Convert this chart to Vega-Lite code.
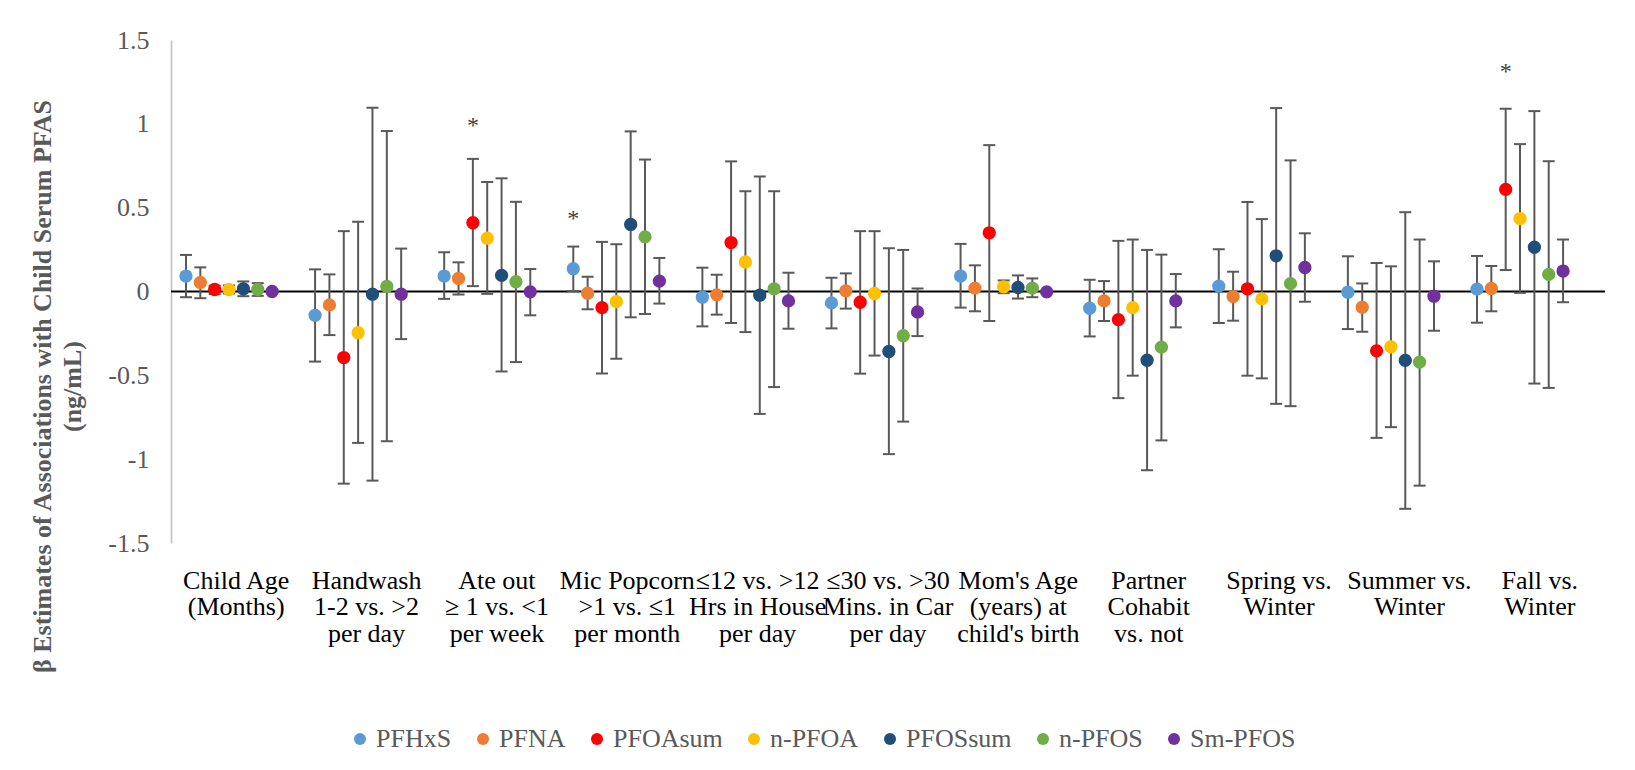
{
  "$schema": "https://vega.github.io/schema/vega-lite/v6.json",
  "width": 1434,
  "height": 503,
  "autosize": {"type": "none"},
  "padding": {"left": 171, "top": 40, "right": 30, "bottom": 227},
  "background": "white",
  "config": {"view": {"stroke": null}, "font": "Liberation Serif"},
  "datasets": {
    "est": [
      {"cat": "Child Age|(Months)", "series": "PFHxS", "est": 0.092, "lo": -0.034, "hi": 0.218},
      {"cat": "Child Age|(Months)", "series": "PFNA", "est": 0.054, "lo": -0.04, "hi": 0.144},
      {"cat": "Child Age|(Months)", "series": "PFOAsum", "est": 0.012, "lo": -0.015, "hi": 0.035},
      {"cat": "Child Age|(Months)", "series": "n-PFOA", "est": 0.012, "lo": -0.012, "hi": 0.036},
      {"cat": "Child Age|(Months)", "series": "PFOSsum", "est": 0.016, "lo": -0.028, "hi": 0.06},
      {"cat": "Child Age|(Months)", "series": "n-PFOS", "est": 0.012, "lo": -0.026, "hi": 0.05},
      {"cat": "Child Age|(Months)", "series": "Sm-PFOS", "est": 0.0, "lo": -0.008, "hi": 0.008},
      {"cat": "Handwash|1-2 vs. >2|per day", "series": "PFHxS", "est": -0.142, "lo": -0.418, "hi": 0.132},
      {"cat": "Handwash|1-2 vs. >2|per day", "series": "PFNA", "est": -0.08, "lo": -0.26, "hi": 0.102},
      {"cat": "Handwash|1-2 vs. >2|per day", "series": "PFOAsum", "est": -0.394, "lo": -1.146, "hi": 0.36},
      {"cat": "Handwash|1-2 vs. >2|per day", "series": "n-PFOA", "est": -0.246, "lo": -0.903, "hi": 0.416},
      {"cat": "Handwash|1-2 vs. >2|per day", "series": "PFOSsum", "est": -0.016, "lo": -1.128, "hi": 1.096},
      {"cat": "Handwash|1-2 vs. >2|per day", "series": "n-PFOS", "est": 0.03, "lo": -0.893, "hi": 0.957},
      {"cat": "Handwash|1-2 vs. >2|per day", "series": "Sm-PFOS", "est": -0.016, "lo": -0.284, "hi": 0.256},
      {"cat": "Ate out|≥ 1 vs. <1|per week", "series": "PFHxS", "est": 0.092, "lo": -0.044, "hi": 0.234},
      {"cat": "Ate out|≥ 1 vs. <1|per week", "series": "PFNA", "est": 0.078, "lo": -0.018, "hi": 0.174},
      {"cat": "Ate out|≥ 1 vs. <1|per week", "series": "PFOAsum", "est": 0.41, "lo": 0.032, "hi": 0.791},
      {"cat": "Ate out|≥ 1 vs. <1|per week", "series": "n-PFOA", "est": 0.318, "lo": -0.014, "hi": 0.653},
      {"cat": "Ate out|≥ 1 vs. <1|per week", "series": "PFOSsum", "est": 0.096, "lo": -0.477, "hi": 0.675},
      {"cat": "Ate out|≥ 1 vs. <1|per week", "series": "n-PFOS", "est": 0.058, "lo": -0.421, "hi": 0.535},
      {"cat": "Ate out|≥ 1 vs. <1|per week", "series": "Sm-PFOS", "est": -0.002, "lo": -0.142, "hi": 0.134},
      {"cat": "Mic Popcorn|>1 vs. ≤1|per month", "series": "PFHxS", "est": 0.136, "lo": 0.002, "hi": 0.268},
      {"cat": "Mic Popcorn|>1 vs. ≤1|per month", "series": "PFNA", "est": -0.01, "lo": -0.106, "hi": 0.088},
      {"cat": "Mic Popcorn|>1 vs. ≤1|per month", "series": "PFOAsum", "est": -0.096, "lo": -0.489, "hi": 0.296},
      {"cat": "Mic Popcorn|>1 vs. ≤1|per month", "series": "n-PFOA", "est": -0.06, "lo": -0.401, "hi": 0.282},
      {"cat": "Mic Popcorn|>1 vs. ≤1|per month", "series": "PFOSsum", "est": 0.4, "lo": -0.154, "hi": 0.955},
      {"cat": "Mic Popcorn|>1 vs. ≤1|per month", "series": "n-PFOS", "est": 0.326, "lo": -0.134, "hi": 0.787},
      {"cat": "Mic Popcorn|>1 vs. ≤1|per month", "series": "Sm-PFOS", "est": 0.062, "lo": -0.072, "hi": 0.2},
      {"cat": "≤12 vs. >12|Hrs in House|per day", "series": "PFHxS", "est": -0.034, "lo": -0.208, "hi": 0.142},
      {"cat": "≤12 vs. >12|Hrs in House|per day", "series": "PFNA", "est": -0.02, "lo": -0.138, "hi": 0.1},
      {"cat": "≤12 vs. >12|Hrs in House|per day", "series": "PFOAsum", "est": 0.292, "lo": -0.188, "hi": 0.776},
      {"cat": "≤12 vs. >12|Hrs in House|per day", "series": "n-PFOA", "est": 0.176, "lo": -0.242, "hi": 0.598},
      {"cat": "≤12 vs. >12|Hrs in House|per day", "series": "PFOSsum", "est": -0.022, "lo": -0.73, "hi": 0.686},
      {"cat": "≤12 vs. >12|Hrs in House|per day", "series": "n-PFOS", "est": 0.016, "lo": -0.57, "hi": 0.598},
      {"cat": "≤12 vs. >12|Hrs in House|per day", "series": "Sm-PFOS", "est": -0.056, "lo": -0.222, "hi": 0.112},
      {"cat": "≤30 vs. >30|Mins. in Car|per day", "series": "PFHxS", "est": -0.068, "lo": -0.22, "hi": 0.082},
      {"cat": "≤30 vs. >30|Mins. in Car|per day", "series": "PFNA", "est": 0.004, "lo": -0.102, "hi": 0.108},
      {"cat": "≤30 vs. >30|Mins. in Car|per day", "series": "PFOAsum", "est": -0.064, "lo": -0.49, "hi": 0.36},
      {"cat": "≤30 vs. >30|Mins. in Car|per day", "series": "n-PFOA", "est": -0.012, "lo": -0.382, "hi": 0.36},
      {"cat": "≤30 vs. >30|Mins. in Car|per day", "series": "PFOSsum", "est": -0.358, "lo": -0.97, "hi": 0.258},
      {"cat": "≤30 vs. >30|Mins. in Car|per day", "series": "n-PFOS", "est": -0.264, "lo": -0.776, "hi": 0.248},
      {"cat": "≤30 vs. >30|Mins. in Car|per day", "series": "Sm-PFOS", "est": -0.122, "lo": -0.266, "hi": 0.018},
      {"cat": "Mom's Age|(years) at|child's birth", "series": "PFHxS", "est": 0.092, "lo": -0.096, "hi": 0.284},
      {"cat": "Mom's Age|(years) at|child's birth", "series": "PFNA", "est": 0.02, "lo": -0.118, "hi": 0.156},
      {"cat": "Mom's Age|(years) at|child's birth", "series": "PFOAsum", "est": 0.35, "lo": -0.176, "hi": 0.873},
      {"cat": "Mom's Age|(years) at|child's birth", "series": "n-PFOA", "est": 0.028, "lo": -0.01, "hi": 0.066},
      {"cat": "Mom's Age|(years) at|child's birth", "series": "PFOSsum", "est": 0.024, "lo": -0.042, "hi": 0.096},
      {"cat": "Mom's Age|(years) at|child's birth", "series": "n-PFOS", "est": 0.02, "lo": -0.034, "hi": 0.078},
      {"cat": "Mom's Age|(years) at|child's birth", "series": "Sm-PFOS", "est": -0.002, "lo": -0.01, "hi": 0.006},
      {"cat": "Partner|Cohabit|vs. not", "series": "PFHxS", "est": -0.1, "lo": -0.268, "hi": 0.07},
      {"cat": "Partner|Cohabit|vs. not", "series": "PFNA", "est": -0.056, "lo": -0.176, "hi": 0.062},
      {"cat": "Partner|Cohabit|vs. not", "series": "PFOAsum", "est": -0.168, "lo": -0.636, "hi": 0.302},
      {"cat": "Partner|Cohabit|vs. not", "series": "n-PFOA", "est": -0.096, "lo": -0.502, "hi": 0.31},
      {"cat": "Partner|Cohabit|vs. not", "series": "PFOSsum", "est": -0.41, "lo": -1.066, "hi": 0.248},
      {"cat": "Partner|Cohabit|vs. not", "series": "n-PFOS", "est": -0.332, "lo": -0.888, "hi": 0.22},
      {"cat": "Partner|Cohabit|vs. not", "series": "Sm-PFOS", "est": -0.056, "lo": -0.214, "hi": 0.104},
      {"cat": "Spring vs.|Winter", "series": "PFHxS", "est": 0.032, "lo": -0.188, "hi": 0.252},
      {"cat": "Spring vs.|Winter", "series": "PFNA", "est": -0.03, "lo": -0.174, "hi": 0.118},
      {"cat": "Spring vs.|Winter", "series": "PFOAsum", "est": 0.016, "lo": -0.502, "hi": 0.534},
      {"cat": "Spring vs.|Winter", "series": "n-PFOA", "est": -0.044, "lo": -0.518, "hi": 0.432},
      {"cat": "Spring vs.|Winter", "series": "PFOSsum", "est": 0.213, "lo": -0.67, "hi": 1.094},
      {"cat": "Spring vs.|Winter", "series": "n-PFOS", "est": 0.047, "lo": -0.684, "hi": 0.782},
      {"cat": "Spring vs.|Winter", "series": "Sm-PFOS", "est": 0.143, "lo": -0.061, "hi": 0.347},
      {"cat": "Summer vs.|Winter", "series": "PFHxS", "est": -0.004, "lo": -0.224, "hi": 0.21},
      {"cat": "Summer vs.|Winter", "series": "PFNA", "est": -0.094, "lo": -0.24, "hi": 0.048},
      {"cat": "Summer vs.|Winter", "series": "PFOAsum", "est": -0.354, "lo": -0.873, "hi": 0.17},
      {"cat": "Summer vs.|Winter", "series": "n-PFOA", "est": -0.33, "lo": -0.809, "hi": 0.15},
      {"cat": "Summer vs.|Winter", "series": "PFOSsum", "est": -0.411, "lo": -1.296, "hi": 0.473},
      {"cat": "Summer vs.|Winter", "series": "n-PFOS", "est": -0.421, "lo": -1.158, "hi": 0.31},
      {"cat": "Summer vs.|Winter", "series": "Sm-PFOS", "est": -0.028, "lo": -0.234, "hi": 0.18},
      {"cat": "Fall vs.|Winter", "series": "PFHxS", "est": 0.014, "lo": -0.186, "hi": 0.212},
      {"cat": "Fall vs.|Winter", "series": "PFNA", "est": 0.018, "lo": -0.118, "hi": 0.152},
      {"cat": "Fall vs.|Winter", "series": "PFOAsum", "est": 0.609, "lo": 0.128, "hi": 1.09},
      {"cat": "Fall vs.|Winter", "series": "n-PFOA", "est": 0.435, "lo": -0.008, "hi": 0.879},
      {"cat": "Fall vs.|Winter", "series": "PFOSsum", "est": 0.264, "lo": -0.549, "hi": 1.076},
      {"cat": "Fall vs.|Winter", "series": "n-PFOS", "est": 0.102, "lo": -0.575, "hi": 0.777},
      {"cat": "Fall vs.|Winter", "series": "Sm-PFOS", "est": 0.122, "lo": -0.064, "hi": 0.31}
    ],
    "stars": [
      {"cat": "Ate out|≥ 1 vs. <1|per week", "series": "PFOAsum", "star": 1.01},
      {"cat": "Mic Popcorn|>1 vs. ≤1|per month", "series": "PFHxS", "star": 0.455},
      {"cat": "Fall vs.|Winter", "series": "PFOAsum", "star": 1.332}
    ]
  },
  "data": {"name": "est"},
  "resolve": {"scale": {"x": "independent"}},
  "layer": [
    {
      "mark": {"type": "point", "opacity": 0},
      "encoding": {
        "x": {
          "field": "cat", "type": "nominal", "sort": null,
          "scale": {"type": "band", "paddingInner": 0, "paddingOuter": 0,
            "domain": ["Child Age|(Months)", "Handwash|1-2 vs. >2|per day", "Ate out|≥ 1 vs. <1|per week", "Mic Popcorn|>1 vs. ≤1|per month", "≤12 vs. >12|Hrs in House|per day", "≤30 vs. >30|Mins. in Car|per day", "Mom's Age|(years) at|child's birth", "Partner|Cohabit|vs. not", "Spring vs.|Winter", "Summer vs.|Winter", "Fall vs.|Winter"]},
          "axis": {"title": null, "domain": false, "ticks": false, "tickSize": 0, "grid": false, "labelAngle": 0,
            "labelExpr": "split(datum.label, '|')", "labelFont": "Liberation Serif", "labelFontSize": 26,
            "labelColor": "#000000", "labelLineHeight": 26.5, "labelPadding": 24,
            "labelOverlap": false, "labelLimit": 250, "labelBound": false}
        },
        "y": {
          "datum": 0, "type": "quantitative",
          "scale": {"domain": [-1.5, 1.5], "nice": false, "zero": false},
          "axis": {"title": ["β Estimates of Associations with Child Serum PFAS", "(ng/mL)"],
            "values": [-1.5, -1, -0.5, 0, 0.5, 1, 1.5], "labelExpr": "'' + datum.value",
            "grid": false, "ticks": false, "tickSize": 0, "domainColor": "#bfbfbf", "domainWidth": 1.5,
            "labelFont": "Liberation Serif", "labelFontSize": 26, "labelColor": "#595959", "labelPadding": 22,
            "titleFont": "Liberation Serif", "titleFontSize": 26, "titleFontWeight": "bold", "titleColor": "#595959",
            "titleLineHeight": 30, "titleX": -116, "titleY": 346, "titleAngle": 270, "titleAlign": "center",
            "titleBaseline": "bottom"}
        }
      }
    },
    {
      "data": {"values": [{}]},
      "mark": {"type": "rule", "color": "#000000", "strokeWidth": 1.8},
      "encoding": {
        "y": {"datum": 0, "type": "quantitative", "scale": {"domain": [-1.5, 1.5], "nice": false, "zero": false},
          "axis": {"title": ["β Estimates of Associations with Child Serum PFAS", "(ng/mL)"]}}
      }
    },
    {
      "encoding": {
        "x": {
          "field": "cat", "type": "nominal", "sort": null,
          "scale": {"type": "band", "range": [-6.5, 1413.6], "paddingInner": 0, "paddingOuter": 0,
            "domain": ["Child Age|(Months)", "Handwash|1-2 vs. >2|per day", "Ate out|≥ 1 vs. <1|per week", "Mic Popcorn|>1 vs. ≤1|per month", "≤12 vs. >12|Hrs in House|per day", "≤30 vs. >30|Mins. in Car|per day", "Mom's Age|(years) at|child's birth", "Partner|Cohabit|vs. not", "Spring vs.|Winter", "Summer vs.|Winter", "Fall vs.|Winter"]},
          "axis": null
        },
        "xOffset": {
          "field": "series", "type": "nominal",
          "scale": {"type": "band", "range": [14.3, 114.75], "paddingInner": 0, "paddingOuter": 0,
            "domain": ["PFHxS", "PFNA", "PFOAsum", "n-PFOA", "PFOSsum", "n-PFOS", "Sm-PFOS"]}
        }
      },
      "layer": [
        {
          "mark": {"type": "rule", "color": "#595959", "strokeWidth": 2},
          "encoding": {
            "y": {"field": "lo", "type": "quantitative", "scale": {"domain": [-1.5, 1.5], "nice": false, "zero": false},
              "axis": {"title": ["β Estimates of Associations with Child Serum PFAS", "(ng/mL)"]}},
            "y2": {"field": "hi"}
          }
        },
        {
          "mark": {"type": "point", "shape": "M-1,0L1,0", "size": 144, "filled": false, "stroke": "#595959", "strokeWidth": 2, "opacity": 1},
          "encoding": {
            "y": {"field": "hi", "type": "quantitative", "scale": {"domain": [-1.5, 1.5], "nice": false, "zero": false},
              "axis": {"title": ["β Estimates of Associations with Child Serum PFAS", "(ng/mL)"]}}
          }
        },
        {
          "mark": {"type": "point", "shape": "M-1,0L1,0", "size": 144, "filled": false, "stroke": "#595959", "strokeWidth": 2, "opacity": 1},
          "encoding": {
            "y": {"field": "lo", "type": "quantitative", "scale": {"domain": [-1.5, 1.5], "nice": false, "zero": false},
              "axis": {"title": ["β Estimates of Associations with Child Serum PFAS", "(ng/mL)"]}}
          }
        },
        {
          "mark": {"type": "circle", "size": 177, "opacity": 1},
          "encoding": {
            "y": {"field": "est", "type": "quantitative", "scale": {"domain": [-1.5, 1.5], "nice": false, "zero": false},
              "axis": {"title": ["β Estimates of Associations with Child Serum PFAS", "(ng/mL)"]}},
            "color": {
              "field": "series", "type": "nominal",
              "scale": {"domain": ["PFHxS", "PFNA", "PFOAsum", "n-PFOA", "PFOSsum", "n-PFOS", "Sm-PFOS"],
                "range": ["#5B9BD5", "#ED7D31", "#FF0000", "#FFC000", "#1F4E79", "#70AD47", "#7030A0"]},
              "legend": {"orient": "none", "direction": "horizontal", "columns": 7, "legendX": 176, "legendY": 686,
                "title": null, "symbolType": "circle", "symbolSize": 144, "symbolStrokeWidth": 0, "symbolOpacity": 1,
                "labelFont": "Liberation Serif", "labelFontSize": 26, "labelColor": "#595959", "labelOffset": 3,
                "columnPadding": 18, "labelLimit": 300}
            }
          }
        },
        {
          "data": {"name": "stars"},
          "mark": {"type": "text", "text": "*", "font": "Liberation Serif", "fontSize": 24, "color": "#404040", "baseline": "alphabetic", "dy": 11},
          "encoding": {
            "y": {"field": "star", "type": "quantitative", "scale": {"domain": [-1.5, 1.5], "nice": false, "zero": false},
              "axis": {"title": ["β Estimates of Associations with Child Serum PFAS", "(ng/mL)"]}}
          }
        }
      ]
    }
  ]
}
